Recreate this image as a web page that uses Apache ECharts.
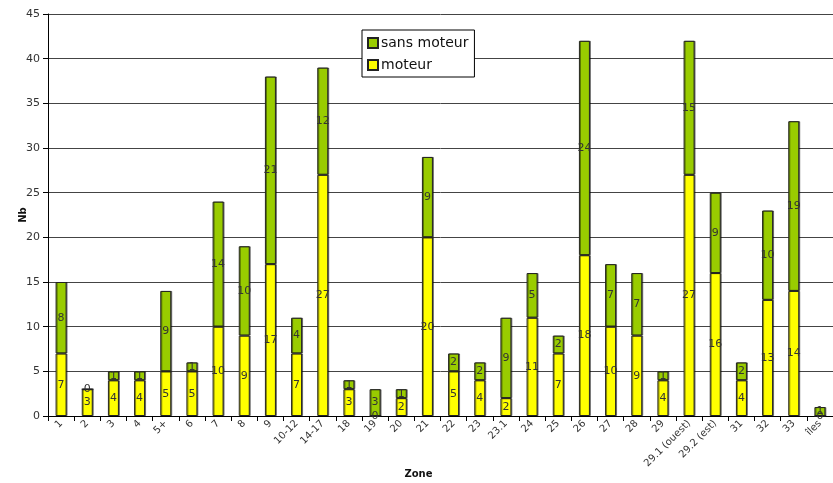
<!DOCTYPE html>
<html><head><meta charset="utf-8">
<script src="https://cdn.jsdelivr.net/npm/echarts@6/dist/echarts.min.js"></script>
<style>html,body{margin:0;padding:0;background:#fff}#c{width:833px;height:483px}</style>
</head><body><div id="c"></div>
<script>
const categories = ['1','2','3','4','5+','6','7','8','9','10-12','14-17','18','19','20','21','22','23','23.1','24','25','26','27','28','29','29.1 (ouest)','29.2 (est)','31','32','33','îles'];
const moteur = [7,3,4,4,5,5,10,9,17,7,27,3,0,2,20,5,4,2,11,7,18,10,9,4,27,16,4,13,14,0];
const sansMoteur = [8,0,1,1,9,1,14,10,21,4,12,1,3,1,9,2,2,9,5,2,24,7,7,1,15,9,2,10,19,1];
const yTicks = [0,5,10,15,20,25,30,35,40,45];

const font = 'DejaVu Sans';
const chart = echarts.init(document.getElementById('c'), null, {renderer:'canvas'});
const labelStyle = {show:true, position:'inside', color:'#333', fontSize:11, fontFamily:font};
const itemBase = {borderColor:'#222', borderWidth:1, shadowColor:'rgba(0,0,0,0.45)', shadowOffsetX:1, shadowOffsetY:0, shadowBlur:0};
chart.setOption({
  animation:false,
  backgroundColor:'#fff',
  grid:{left:48, right:0, top:14, bottom:67, containLabel:false, outerBoundsMode:'none'},
  legend:{
    data:['sans moteur','moteur'], orient:'vertical', left:362, top:30,
    itemWidth:10, itemHeight:10, itemGap:8, padding:[6,6,5,5],
    borderColor:'#000', borderWidth:1, backgroundColor:'#fff',
    textStyle:{fontSize:14, fontFamily:font, color:'#111', padding:[0,0,0,-2]},
    icon:'rect'
  },
  xAxis:{
    type:'category', data:categories, name:'Zone', nameLocation:'middle', nameGap:53, nameMoveOverlap:false,
    nameTextStyle:{fontWeight:'bold', fontSize:10, fontFamily:font, color:'#111', padding:[0,44,0,0]},
    axisLine:{lineStyle:{color:'#000'}},
    axisTick:{show:true, alignWithLabel:false, length:5, lineStyle:{color:'#000'}},
    axisLabel:{rotate:45, fontSize:10, fontFamily:font, color:'#333', interval:0, margin:6}
  },
  yAxis:{
    type:'value', min:yTicks[0], max:yTicks[yTicks.length-1], interval:5,
    name:'Nb', nameLocation:'middle', nameGap:20, nameRotate:90, nameMoveOverlap:false,
    nameTextStyle:{fontWeight:'bold', fontSize:10, fontFamily:font, color:'#111'},
    axisLine:{show:true, lineStyle:{color:'#000'}},
    axisTick:{show:true, length:5, lineStyle:{color:'#000'}},
    axisLabel:{fontSize:11, fontFamily:font, color:'#333', margin:8},
    splitLine:{show:true, lineStyle:{color:'#444', width:1}}
  },
  series:[
    {name:'moteur', type:'bar', stack:'t', data:moteur, barWidth:11,
     itemStyle:Object.assign({color:'#FFFF00'}, itemBase), label:labelStyle},
    {name:'sans moteur', type:'bar', stack:'t', data:sansMoteur, barWidth:11,
     itemStyle:Object.assign({color:'#99CC00'}, itemBase), label:labelStyle}
  ]
});
</script></body></html>
